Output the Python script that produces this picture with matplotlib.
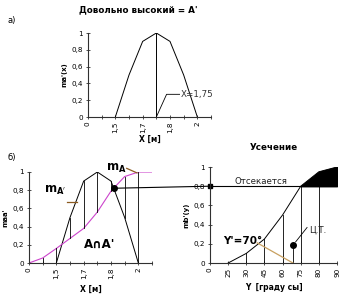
import numpy as np
import matplotlib
matplotlib.use("Agg")
import matplotlib.pyplot as plt
from matplotlib.patches import ConnectionPatch

plt.rcParams['font.family'] = ['DejaVu Sans']

# ---- data ----
x_labels = ['0', '', '1,5', '', '1,7', '', '1,8', '', '2', '']
a_prime = [np.nan, np.nan, 0, 0.5, 0.9, 1.0, 0.9, 0.5, 0, np.nan]      # m_A'(x)
m_a = [0, 0.055, 0.16, 0.27, 0.38, 0.56, 0.79, 0.95, 1.0, 1.0]        # m_A(x)
x_peak_cat = 5          # X = 1,75
y_labels = ['0', '25', '30', '45', '60', '75', '80', '90']
mb = [np.nan, 0, 0.1, 0.25, 0.5, 0.8, 0.95, 1.0]                      # m_B'(y)
cut_level = 0.8
centroid_cat = 4.57
centroid_val = 0.19
yticks = [0, 0.2, 0.4, 0.6, 0.8, 1.0]
ytick_labels = ['0', '0,2', '0,4', '0,6', '0,8', '1']

W, H = 343, 300
fig = plt.figure(figsize=(W / 100, H / 100), dpi=100)

def ax_px(l, r, b, t):
    return fig.add_axes([l / W, 1 - b / H, (r - l) / W, (b - t) / H])

spine_c = '#303030'
fs = 5.2

def style(ax, n, labels):
    for s in ['top', 'right']:
        ax.spines[s].set_visible(False)
    for s in ['left', 'bottom']:
        ax.spines[s].set_color(spine_c)
        ax.spines[s].set_linewidth(0.8)
    ax.set_xlim(0, n)
    ax.set_ylim(0, 1)
    ax.set_xticks(np.arange(len(labels)))
    ax.set_xticklabels(labels, rotation=90, fontsize=fs)
    ax.set_yticks(yticks)
    ax.set_yticklabels(ytick_labels, fontsize=fs)
    ax.tick_params(direction='inout', length=3, width=0.6, color=spine_c, pad=2)
    ax.patch.set_alpha(0)

xs = np.arange(len(x_labels))

# ---- top chart ----
ax1 = ax_px(88, 211, 117, 33)
style(ax1, 9, x_labels)
ax1.plot(xs, a_prime, color='black', lw=0.7)
ax1.plot([x_peak_cat, x_peak_cat], [0, 1], color='black', lw=0.7)
ax1.plot([x_peak_cat, 5.75, 6.7], [0, 0.27, 0.27], color='black', lw=0.6, clip_on=False)
ax1.text(6.75, 0.27, 'X=1,75', fontsize=6.3, color='#333333', va='center', ha='left')
ax1.set_xlabel('X [м]', fontsize=5.5, fontweight='bold', labelpad=1)
ax1.set_ylabel("ma'(x)", fontsize=5, fontweight='bold', labelpad=3)
fig.text(138 / W, 1 - 10 / H, "Довольно высокий = A'", fontsize=6.3, fontweight='bold',
         ha='center', va='center')
fig.text(8 / W, 1 - 20 / H, 'а)', fontsize=6, ha='left', va='center')
fig.text(8 / W, 1 - 158 / H, 'б)', fontsize=6, ha='left', va='center')

# ---- bottom-left chart ----
ax2 = ax_px(29, 152, 263, 172)
style(ax2, 9, x_labels)
ap = np.array(a_prime, dtype=float)
ma = np.array(m_a, dtype=float)
ax2.plot(xs, ap, color='black', lw=0.7)
ax2.plot(xs, ma, color='#cc44cc', lw=0.8)
for i in range(len(xs)):
    b = 0 if np.isnan(ap[i]) else ap[i]
    lo, hi = min(b, ma[i]), max(b, ma[i])
    if hi - lo > 0.01:
        ax2.plot([xs[i], xs[i]], [lo, hi], color='black', lw=0.6)
# intersection of descending A' and rising A
i = 6
d1 = ap[i + 1] - ap[i]
d2 = ma[i + 1] - ma[i]
t = (ma[i] - ap[i]) / (d1 - d2)
ix, iy = xs[i] + t, ap[i] + t * d1
ax2.plot([ix], [iy], 'o', color='black', ms=4)
ax2.set_xlabel('X [м]', fontsize=5.5, fontweight='bold', labelpad=4)
ax2.set_ylabel("maa'", fontsize=5, fontweight='bold', labelpad=3)
ax2.text(1.1, 0.8, r"$\mathbf{m}_{\mathbf{A'}}$", fontsize=8.5, va='center', ha='left')
ax2.plot([2.8, 3.5], [0.67, 0.67], color='#8b5a20', lw=0.9)
ax2.text(5.6, 1.04, r"$\mathbf{m}_{\mathbf{A}}$", fontsize=8.5, va='center', ha='left', clip_on=False)
ax2.plot([7.15, 7.9], [1.04, 0.99], color='#8b5a20', lw=0.9, clip_on=False)
ax2.text(5.15, 0.2, "A∩A'", fontsize=8.5, fontweight='bold', ha='center', va='center')

# ---- bottom-right chart ----
ax3 = ax_px(210, 337, 263, 167)
style(ax3, 7, y_labels)
ys = np.arange(len(y_labels))
mbv = np.array(mb, dtype=float)
ax3.plot(ys, mbv, color='black', lw=0.7)
ok = ~np.isnan(mbv)
ax3.fill_between(ys[ok], cut_level, mbv[ok], where=mbv[ok] >= cut_level,
                 color='black', interpolate=True)
for j in range(len(ys)):
    if ok[j] and mbv[j] > 0:
        ax3.plot([ys[j], ys[j]], [0, min(mbv[j], cut_level)], color='black', lw=0.6)
ax3.axhline(cut_level, color='black', lw=0.8)
ax3.plot([0], [cut_level], 's', color='black', ms=2.5, clip_on=False)
ax3.text(1.35, cut_level + 0.005, 'Отсекается', fontsize=6.2, ha='left', va='bottom', color='#222222')
ax3.plot([centroid_cat, centroid_cat], [0, centroid_val], color='black', lw=0.6)
ax3.plot([centroid_cat], [centroid_val], 'o', color='black', ms=4)
ax3.plot([centroid_cat + 0.15, 5.35], [0.22, 0.37], color='black', lw=0.6)
ax3.text(5.45, 0.34, 'Ц.Т.', fontsize=6.2, ha='left', va='center', color='#222222')
ax3.plot([2.6, centroid_cat], [0.21, 0], color='#c8a060', lw=0.9)
ax3.text(0.7, 0.23, "Y'=70°", fontsize=7.5, fontweight='bold', ha='left', va='center')
ax3.set_xlabel('Y  [граду сы]', fontsize=5.5, fontweight='bold', labelpad=4)
ax3.set_ylabel("mb'(y)", fontsize=5, fontweight='bold', labelpad=3)
ax3.set_title('Усечение', fontsize=6.3, fontweight='bold', pad=12)

# connector from intersection to cut line
con = ConnectionPatch(xyA=(ix, iy), coordsA=ax2.transData,
                      xyB=(0, cut_level), coordsB=ax3.transData,
                      color='black', lw=0.8)
fig.add_artist(con)

fig.savefig('out.png', dpi=100)
